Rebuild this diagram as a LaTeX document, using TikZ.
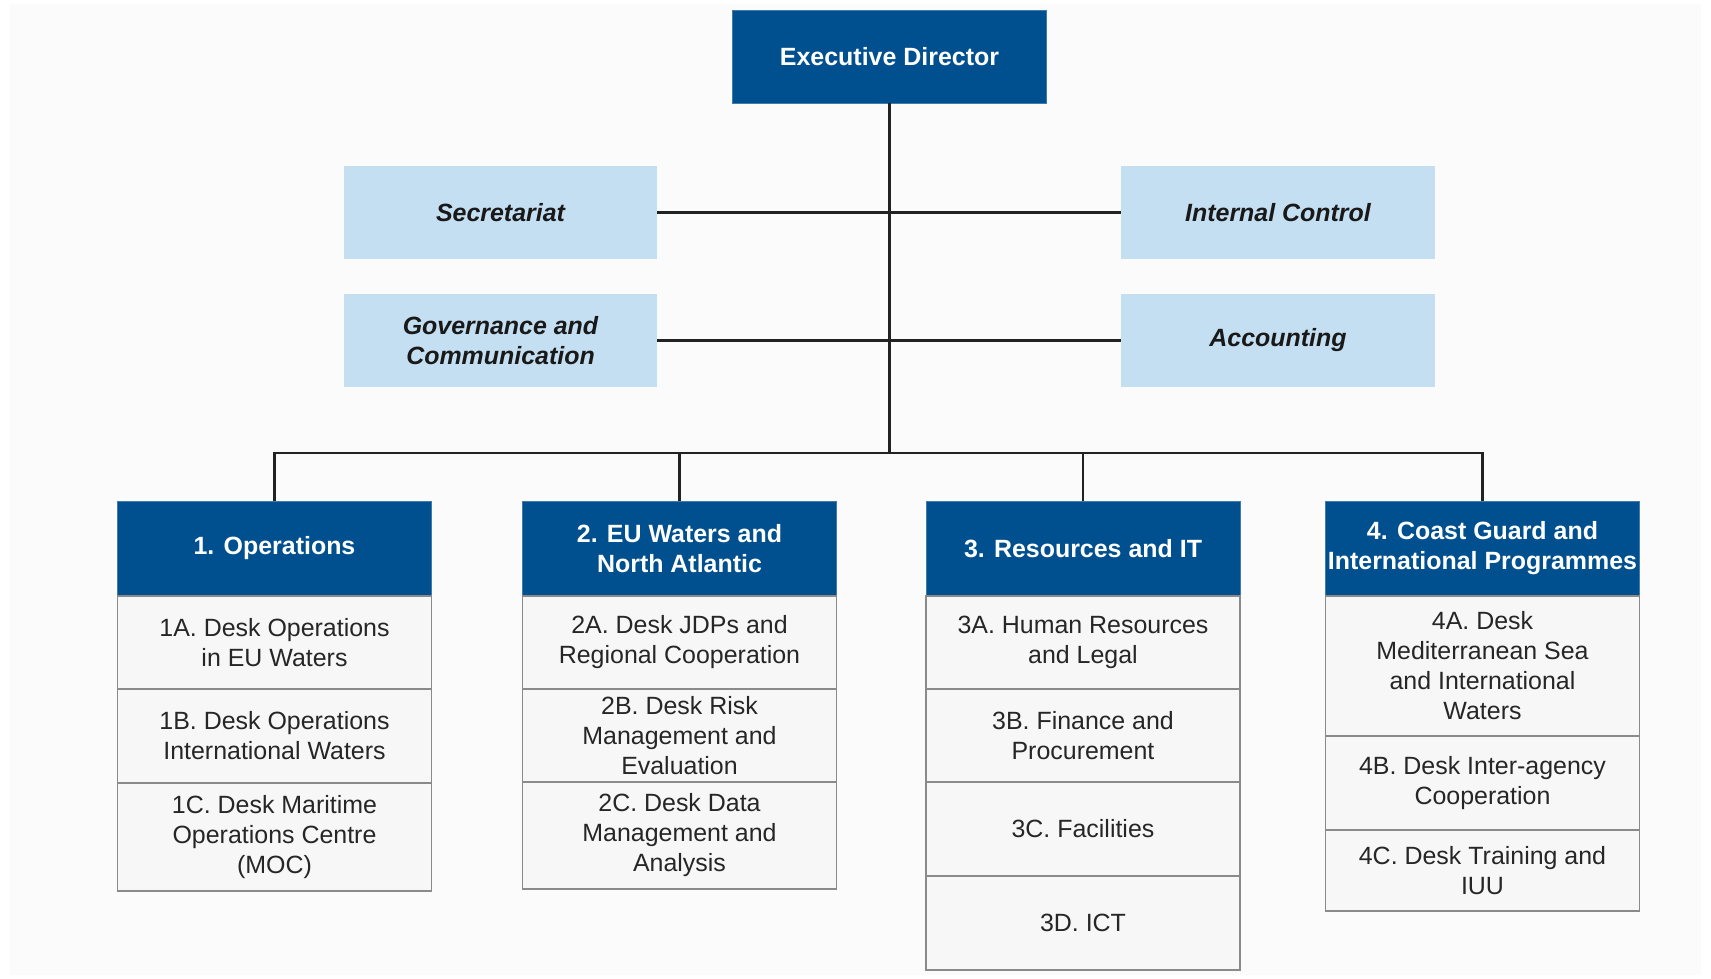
\documentclass[tikz,border=0pt]{standalone}
\usepackage{fontspec}
\setmainfont{Liberation Sans}
\usetikzlibrary{positioning}

\definecolor{fxblue}{HTML}{00508F}
\definecolor{fxlight}{HTML}{C4DFF2}
\definecolor{fxrow}{HTML}{F7F7F7}
\definecolor{fxedge}{HTML}{8A8A8A}
\definecolor{fxline}{HTML}{222222}
\definecolor{fxpaper}{HTML}{FBFBFB}

\begin{document}
\begin{tikzpicture}[x=0.02cm, y=-0.02cm,
    box/.style={minimum width=6.28cm, minimum height=1.86cm, inner sep=0pt, outer sep=0pt, align=center},
    headbox/.style={box, fill=fxblue, draw=fxblue!75!white, line width=0.4pt, text=white,
        font=\fontsize{14.2}{17.1}\selectfont\bfseries},
    staffbox/.style={box, fill=fxlight, text=black!90,
        font=\fontsize{14.2}{17.1}\selectfont\bfseries\itshape},
    deskbox/.style={box, fill=fxrow, draw=fxedge, line width=0.8pt, text=black!85,
        font=\fontsize{14.2}{17.1}\selectfont, below=0pt of #1},
    link/.style={draw=fxline, line width=1.4pt}]

    % page
    \fill[white] (0,0) rectangle (1711,979);
    \useasboundingbox (0,0) rectangle (1711,979);
    \fill[fxpaper] (10,4) rectangle (1701,975);

    % top of the chart
    \node[headbox] (ed) at (889.5,56.5) {Executive Director};
    \node[staffbox] (sec) at (500.5,212.5) {Secretariat};
    \node[staffbox] (ic) at (1278,212.5) {Internal Control};
    \node[staffbox] (gov) at (500.5,340.5) {Governance and\\Communication};
    \node[staffbox] (acc) at (1278,340.5) {Accounting};

    % divisions
    \node[headbox, minimum height=1.9cm] (h1) at (274.5,548.5) {1. Operations};
    \node[headbox, minimum height=1.9cm] (h2) at (679.5,548.5) {2. EU Waters and\\North Atlantic};
    \node[headbox, minimum height=1.9cm] (h3) at (1083,548.5) {3. Resources and IT};
    \node[headbox, minimum height=1.9cm] (h4) at (1482.5,548.5) {4. Coast Guard and\\International Programmes};

    % desks
    \node[deskbox=h1] (d1a) {1A. Desk Operations\\in EU Waters};
    \node[deskbox=d1a, minimum height=1.88cm] (d1b) {1B. Desk Operations\\International Waters};
    \node[deskbox=d1b, minimum height=2.16cm] (d1c) {1C. Desk Maritime\\Operations Centre\\(MOC)};

    \node[deskbox=h2] (d2a) {2A. Desk JDPs and\\Regional Cooperation};
    \node[deskbox=d2a] (d2b) {2B. Desk Risk\\Management and\\Evaluation};
    \node[deskbox=d2b, minimum height=2.14cm] (d2c) {2C. Desk Data\\Management and\\Analysis};

    \node[deskbox=h3] (d3a) {3A. Human Resources\\and Legal};
    \node[deskbox=d3a] (d3b) {3B. Finance and\\Procurement};
    \node[deskbox=d3b, minimum height=1.88cm] (d3c) {3C. Facilities};
    \node[deskbox=d3c, minimum height=1.88cm] (d3d) {3D. ICT};

    \node[deskbox=h4, minimum height=2.8cm] (d4a) {4A. Desk\\Mediterranean Sea\\and International\\Waters};
    \node[deskbox=d4a, minimum height=1.88cm] (d4b) {4B. Desk Inter-agency\\Cooperation};
    \node[deskbox=d4b, minimum height=1.62cm] (d4c) {4C. Desk Training and\\IUU};

    % lines
    \coordinate (bus) at (889.5,453);
    \draw[link] (ed) -- (bus);
    \draw[link] (sec) -- (ic);
    \draw[link] (gov) -- (acc);
    \draw[link] (h1.north) |- (bus) -| (h4.north);
    \draw[link] (h2.north) -- (h2.north |- bus);
    \draw[link] (h3.north) -- (h3.north |- bus);
\end{tikzpicture}
\end{document}
